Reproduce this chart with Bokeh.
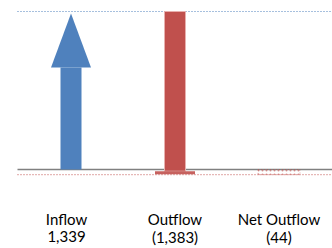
from bokeh.plotting import figure
from bokeh.models import Range1d, ColumnDataSource
from bokeh.core.properties import value
from bokeh.embed import file_html
from bokeh.resources import INLINE

categories = ["Inflow", "Outflow", "Net Outflow"]
value_labels = ["1,339", "(1,383)", "(44)"]
inflow = 1339
outflow = -1383
net = inflow + outflow  # -44

BLUE = "#4F81BD"
RED = "#C0504D"

W, H = 332, 248
px_per_unit = 158 / 1339.0
x_per_px = 1 / 104.0
# image coordinates: baseline at y=169; Inflow centre x=70.5
y_top = 169 / px_per_unit
y_bot = (169 - H) / px_per_unit
x_left = (0 - 70.5) * x_per_px
x_right = (W - 70.5) * x_per_px

p = figure(width=W, height=H, output_backend="svg", toolbar_location=None,
           x_range=Range1d(x_left, x_right), y_range=Range1d(y_bot, y_top),
           min_border=0, min_border_left=0, min_border_right=0,
           min_border_top=0, min_border_bottom=0)
p.axis.visible = False
p.grid.visible = False
p.outline_line_color = None
p.background_fill_color = "white"
p.border_fill_color = "white"

line_x0 = (17 - 70.5) * x_per_px

# reference lines
p.segment(x0=[line_x0], x1=[x_right], y0=[inflow], y1=[inflow],
          line_color=BLUE, line_width=1, line_dash="1 2")
p.segment(x0=[line_x0], x1=[x_right], y0=[0], y1=[0],
          line_color="#808080", line_width=1.5)
p.segment(x0=[line_x0], x1=[x_right], y0=[net], y1=[net],
          line_color=RED, line_width=1, line_dash="1 2")

# Inflow arrow
shaft_w = 21 * x_per_px
head_w = 40 * x_per_px
head_len = 56 / px_per_unit
p.quad(left=[0 - shaft_w / 2], right=[0 + shaft_w / 2], bottom=[0],
       top=[inflow - head_len], fill_color=BLUE, line_color=None)
p.patch(x=[0 - head_w / 2, 0, 0 + head_w / 2],
        y=[inflow - head_len, inflow - 2 / px_per_unit, inflow - head_len],
        fill_color=BLUE, line_color=None)

# Outflow arrow (down from inflow level to net)
out_head = 3.5 / px_per_unit
p.quad(left=[1 - shaft_w / 2], right=[1 + shaft_w / 2], bottom=[net + out_head],
       top=[inflow], fill_color=RED, line_color="#E8B0AE", line_width=1)
p.quad(left=[1 - head_w / 2], right=[1 + head_w / 2], bottom=[net + 0.5 / px_per_unit],
       top=[net + out_head], fill_color=RED, line_color=None, fill_alpha=0.9)

# Net outflow small patterned arrow
p.quad(left=[2 - 21 * x_per_px], right=[2 + 21 * x_per_px], bottom=[net], top=[0],
       fill_color=None, line_color=RED, line_alpha=0.5, line_dash="1 2",
       hatch_pattern="dot", hatch_color=RED, hatch_alpha=0.6, hatch_scale=4)

# labels
y_name = (169 - 218) / px_per_unit
y_val = (169 - 236) / px_per_unit
src = ColumnDataSource(dict(x=[0, 1, 2], name=categories, val=value_labels,
                            dx=[-4.5, 0, 0]))
p.text(x="x", y=y_name, text="name", x_offset="dx", source=src,
       text_align="center", text_baseline="middle", text_font=value("Lato"),
       text_font_size="15px", text_color="#000000")
p.text(x="x", y=y_val, text="val", x_offset="dx", source=src,
       text_align="center", text_baseline="middle", text_font=value("Lato"),
       text_font_size="15px", text_color="#000000")

open("out.html", "w").write(file_html(p, INLINE))
